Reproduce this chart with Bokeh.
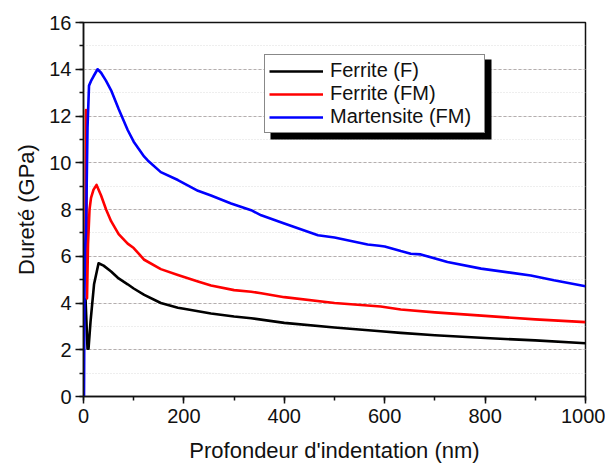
from bokeh.plotting import figure
from bokeh.models import (Range1d, SingleIntervalTicker, Legend, LegendItem,
                          BoxAnnotation)
from bokeh.embed import file_html
from bokeh.resources import INLINE

# ---- data ----
depth_ferrite_f = [4, 8, 10, 14, 21, 30, 40, 55, 70, 88, 100, 121, 154, 188,
                   200, 254, 300, 334, 400, 500, 592, 632, 700, 800, 900, 1000]
hard_ferrite_f = [4.2, 2.05, 2.05, 3.2, 4.8, 5.7, 5.6, 5.35, 5.05, 4.8, 4.62,
                  4.35, 4.0, 3.8, 3.75, 3.55, 3.42, 3.35, 3.15, 2.95, 2.79,
                  2.72, 2.62, 2.5, 2.4, 2.28]

depth_ferrite_fm = [4, 5, 7, 9, 12, 15, 20, 26, 35, 45, 55, 70, 88, 100, 121,
                    154, 188, 228, 254, 300, 334, 354, 400, 500, 592, 632, 700,
                    800, 900, 1000]
hard_ferrite_fm = [6.3, 12.25, 4.2, 6.5, 8.0, 8.5, 8.85, 9.05, 8.6, 8.0, 7.5,
                   6.95, 6.54, 6.35, 5.85, 5.45, 5.2, 4.92, 4.75, 4.55, 4.48,
                   4.42, 4.25, 4.0, 3.85, 3.72, 3.6, 3.45, 3.3, 3.18]

depth_martensite_fm = [1, 2, 3, 5, 8, 11, 15, 20, 28, 35, 45, 55, 70, 88, 100,
                       121, 128, 154, 188, 228, 254, 294, 334, 354, 400, 467,
                       500, 566, 589, 600, 632, 652, 672, 725, 792, 850, 891,
                       937, 1000]
hard_martensite_fm = [0, 4.5, 6.3, 7.0, 11.5, 13.3, 13.5, 13.7, 14.0, 13.85,
                      13.5, 13.1, 12.3, 11.4, 10.9, 10.26, 10.1, 9.6, 9.26,
                      8.8, 8.6, 8.26, 7.97, 7.75, 7.4, 6.9, 6.8, 6.5, 6.45,
                      6.42, 6.22, 6.11, 6.08, 5.75, 5.47, 5.3, 5.18, 4.97,
                      4.72]

series_names = ["Ferrite (F)", "Ferrite (FM)", "Martensite (FM)"]
series_colors = ["#000000", "#ff0000", "#0000ff"]

x_label = "Profondeur d'indentation (nm)"
y_label = "Dureté (GPa)"

FONT = "Liberation Sans"

FRAME_W, FRAME_H = 502, 374
BL, BT = 83, 22

p = figure(frame_width=FRAME_W, frame_height=FRAME_H,
           x_range=Range1d(0, 1000), y_range=Range1d(0, 16),
           output_backend="svg", toolbar_location=None,
           min_border_left=BL, min_border_top=BT, min_border_right=20,
           min_border_bottom=10)
p.background_fill_color = "white"
p.border_fill_color = "white"
p.outline_line_color = "#111111"
p.outline_line_width = 1.5

p.xaxis.ticker = SingleIntervalTicker(interval=200, num_minor_ticks=2)
p.yaxis.ticker = SingleIntervalTicker(interval=2, num_minor_ticks=2)

for ax in (p.xaxis[0], p.yaxis[0]):
    ax.axis_line_color = "#111111"
    ax.axis_line_width = 1.5
    ax.major_tick_line_color = "#111111"
    ax.major_tick_line_width = 1.5
    ax.minor_tick_line_color = "#111111"
    ax.minor_tick_line_width = 1.5
    ax.major_tick_in = 0
    ax.minor_tick_in = 0
    ax.minor_tick_out = 4
    ax.major_label_text_font = FONT
    ax.major_label_text_font_size = "20px"
    ax.major_label_text_color = "#111111"
    ax.axis_label_text_font = FONT
    ax.axis_label_text_font_size = "22px"
    ax.axis_label_text_font_style = "normal"
    ax.axis_label_text_color = "#111111"

p.xaxis.major_tick_out = 7
p.yaxis.major_tick_out = 8
p.xaxis.major_label_standoff = 5
p.yaxis.major_label_standoff = 4
p.xaxis.axis_label_standoff = 12
p.yaxis.axis_label_standoff = 7
p.xaxis.axis_label = x_label
p.yaxis.axis_label = y_label

p.xgrid.grid_line_color = None
p.ygrid.grid_line_color = "#b4aeae"
p.ygrid.grid_line_dash = "3 2"
p.ygrid.grid_line_width = 1
p.ygrid.minor_grid_line_color = "#dddddd"
p.ygrid.minor_grid_line_dash = "1 2"
p.ygrid.minor_grid_line_width = 1

xs = [depth_ferrite_f, depth_ferrite_fm, depth_martensite_fm]
ys = [hard_ferrite_f, hard_ferrite_fm, hard_martensite_fm]
renderers = []
for x, y, c in zip(xs, ys, series_colors):
    r = p.line(x, y, line_color=c, line_width=2.6, line_join="round")
    renderers.append(r)

# legend placement (screen px relative to frame)
LEG_LEFT_PX = 181   # from frame left
LEG_TOP_PX = 31     # from frame top
LEG_H = 80
LEG_W = 221

# shadow box (decoration), converted from screen offsets to data units
sx = 1000 / FRAME_W
sy = 16 / FRAME_H
shadow = BoxAnnotation(left=(LEG_LEFT_PX + 6) * sx,
                       right=(LEG_LEFT_PX + LEG_W + 6) * sx,
                       top=16 - (LEG_TOP_PX + 6) * sy,
                       bottom=16 - (LEG_TOP_PX + LEG_H + 6) * sy,
                       fill_color="#000000", fill_alpha=1.0,
                       line_color=None, level="annotation")
p.add_layout(shadow)

legend = Legend(items=[LegendItem(label=n, renderers=[r])
                       for n, r in zip(series_names, renderers)],
                location=(LEG_LEFT_PX, FRAME_H - LEG_TOP_PX - LEG_H),
                padding=4, spacing=0, margin=0,
                glyph_width=54, glyph_height=20, label_height=20,
                label_width=150, label_standoff=7,
                label_text_font=FONT, label_text_font_size="20px",
                label_text_color="#111111",
                border_line_color="#111111", border_line_width=1.5,
                background_fill_color="white", background_fill_alpha=1.0)
p.add_layout(legend, "center")

open("out.html", "w").write(file_html(p, INLINE))
